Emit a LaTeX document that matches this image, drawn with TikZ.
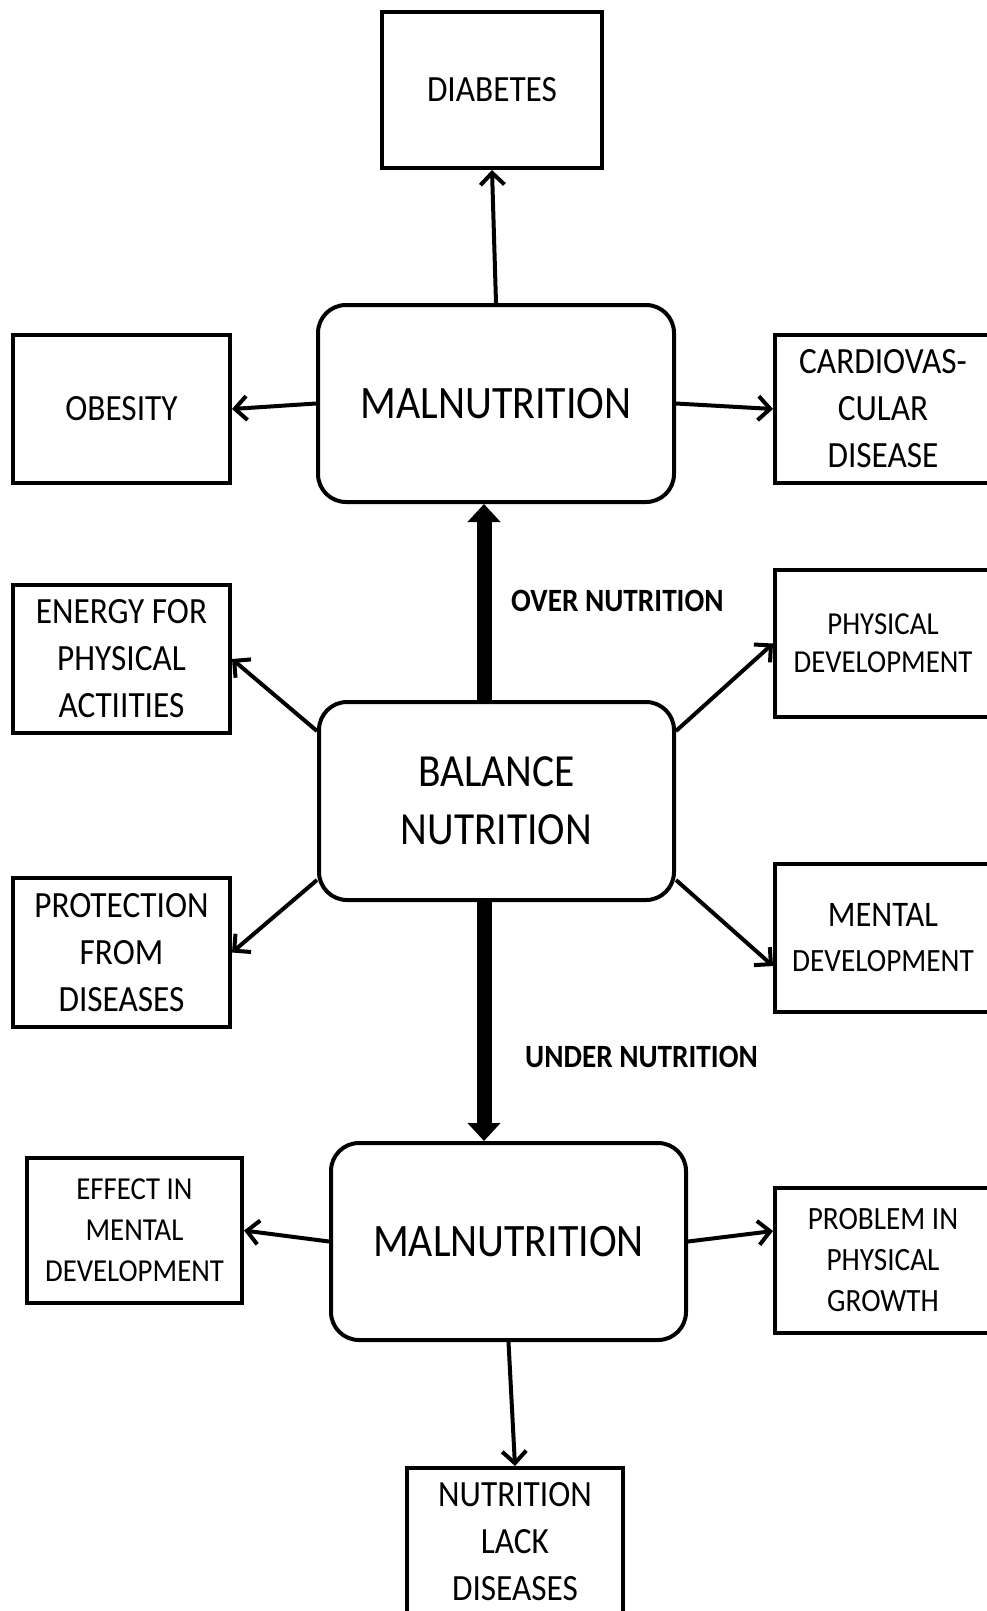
\documentclass[tikz,border=0pt]{standalone}
\usepackage{fontspec}
\setmainfont{Carlito}[FakeStretch=0.9]
\usetikzlibrary{arrows.meta}
\begin{document}
\begin{tikzpicture}[x=1pt,y=-1pt,
  box/.style={draw,line width=4pt,rectangle,align=center,inner sep=0pt},
  rbox/.style={box,rounded corners=28pt},
  fa/.style={font=\fontsize{37}{47}\selectfont},
  fb/.style={font=\fontsize{32}{38}\selectfont},
  fbig/.style={font=\fontsize{46.5}{58}\selectfont},
  arr/.style={line width=4pt,-{Straight Barb[length=12pt,width=24pt]}},
  bigarr/.style={line width=15pt,-{Triangle[length=18pt,width=32pt]}},
  lbl/.style={font=\bfseries\fontsize{32.5}{38}\selectfont,anchor=west,inner sep=0pt}]
\useasboundingbox (0,0) rectangle (987,1611);
\clip (0,0) rectangle (987,1611);
% nodes
\node[box,fa,minimum width=220pt,minimum height=156pt] (diab) at (492,90) {DIABETES};
\node[rbox,fbig,minimum width=356pt,minimum height=197pt] (mal1) at (496,403.5) {MALNUTRITION};
\node[box,fa,minimum width=217pt,minimum height=148pt] (obes) at (121.5,409) {OBESITY};
\node[box,fa,minimum width=216pt,minimum height=148pt] (cardio) at (883,409) {CARDIOVAS-\\CULAR\\DISEASE};
\node[box,fa,minimum width=217pt,minimum height=148pt] (energy) at (121.5,659) {ENERGY FOR\\PHYSICAL\\ACTIITIES};
\node[rbox,font=\fontsize{46}{58}\selectfont,minimum width=355pt,minimum height=198pt] (bal) at (496.5,801) {BALANCE\\NUTRITION};
\node[box,fb,minimum width=216pt,minimum height=147pt] (phys) at (883,643.5) {PHYSICAL\\DEVELOPMENT};
\node[box,fa,minimum width=217pt,minimum height=149pt] (prot) at (121.5,952.5) {PROTECTION\\FROM\\DISEASES};
\node[box,font=\fontsize{36}{45}\selectfont,minimum width=216pt,minimum height=148pt] (ment) at (883,938) {MENTAL\\{\fontsize{32.5}{45}\selectfont DEVELOPMENT}};
\node[rbox,fbig,minimum width=355pt,minimum height=197pt] (mal2) at (508.5,1241.5) {MALNUTRITION};
\node[box,font=\fontsize{32}{41}\selectfont,minimum width=215pt,minimum height=145pt] (effect) at (134.5,1230.5) {EFFECT IN\\MENTAL\\DEVELOPMENT};
\node[box,font=\fontsize{32.5}{41}\selectfont,minimum width=216pt,minimum height=145pt] (problem) at (883,1260.5) {PROBLEM IN\\PHYSICAL\\GROWTH};
\node[box,fa,minimum width=216pt,minimum height=148pt] (lack) at (515,1542) {NUTRITION\\LACK\\DISEASES};
% labels
\node[lbl] (over) at (511,601) {OVER NUTRITION};
\node[lbl] (under) at (525,1057) {UNDER NUTRITION};
% connectors
\draw[arr] (mal1.north) -- (diab.south);
\draw[arr] (mal1.west) -- (obes.east);
\draw[arr] (mal1.east) -- (cardio.west);
\draw[bigarr] ([xshift=-12.5pt]bal.north) -- ([xshift=-12pt]mal1.south);
\draw[bigarr] ([xshift=-12.5pt]bal.south) -- ([xshift=-24.5pt]mal2.north);
\draw[arr] ([yshift=-31pt]bal.north west) -- (energy.east);
\draw[arr] ([yshift=22pt]bal.south west) -- (prot.east);
\draw[arr] ([yshift=-31pt]bal.north east) -- (phys.west);
\draw[arr] ([yshift=22pt]bal.south east) -- ([yshift=-28pt]ment.west);
\draw[arr] (mal2.west) -- (effect.east);
\draw[arr] (mal2.east) -- ([yshift=29.5pt]problem.west);
\draw[arr] (mal2.south) -- (lack.north);
\end{tikzpicture}
\end{document}
